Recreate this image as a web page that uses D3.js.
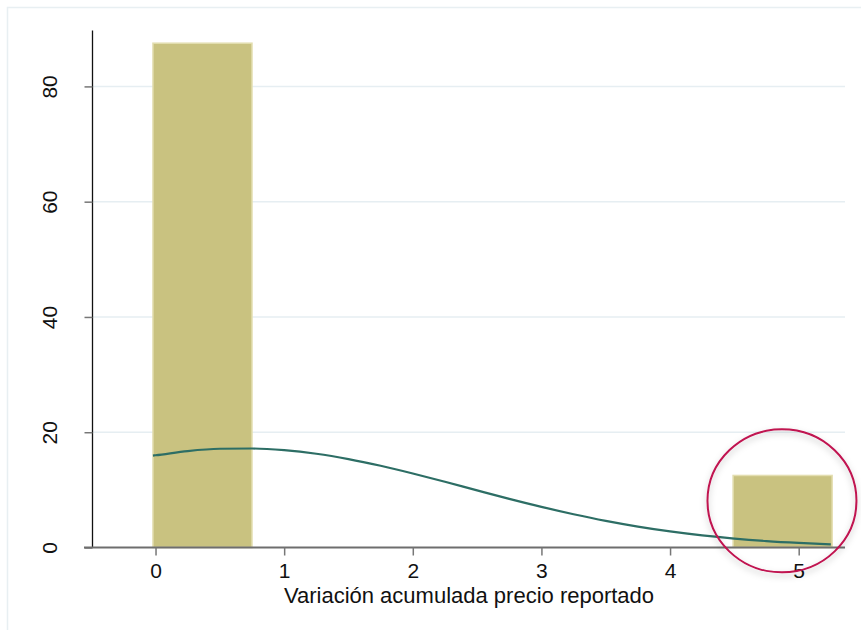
<!DOCTYPE html>
<html><head><meta charset="utf-8">
<script src="https://cdn.jsdelivr.net/npm/d3@7"></script>
<style>
html,body{margin:0;padding:0;background:#fff;}
svg{display:block;font-family:"Liberation Sans",Arial,sans-serif;}
</style></head>
<body>
<svg id="chart" width="861" height="630"></svg>
<script>
// Histogram bins (percent)
const binStart = [-0.02, 4.49];
const binEnd   = [0.75, 5.26];
const binPct   = [87.5, 12.5];
// Normal density overlay (percent scale)
const curveX = [-0.02,0,0.25,0.5,0.75,1,1.25,1.5,1.75,2,2.25,2.5,2.75,3,3.25,3.5,3.75,4,4.25,4.5,4.75,5,5.25];
const curveY = [15.95,16.0,16.73,17.13,17.18,16.88,16.26,15.34,14.18,12.84,11.40,9.91,8.44,7.05,5.77,4.62,3.63,2.79,2.10,1.55,1.12,0.80,0.55];
const xTicks = [0,1,2,3,4,5];
const yTicks = [0,20,40,60,80];
const xTitle = "Variación acumulada precio reportado";

const svg = d3.select("#chart");
const x = d3.scaleLinear().domain([-0.49, 5.36]).range([92.5, 845]);
const y = d3.scaleLinear().domain([0, 89.7]).range([547.5, 30.5]);

// outer frame
svg.append("path").attr("d","M7.5,630 L7.5,7.5 L861,7.5")
  .attr("fill","none").attr("stroke","#e8eff2").attr("stroke-width",1.5);

// gridlines
svg.append("g").selectAll("line").data(yTicks.filter(d=>d>0)).join("line")
  .attr("x1",92.5).attr("x2",845).attr("y1",d=>y(d)).attr("y2",d=>y(d))
  .attr("stroke","#e6eef2").attr("stroke-width",1.5);

// bars
svg.append("g").selectAll("rect").data(binPct).join("rect")
  .attr("x",(d,i)=>x(binStart[i])).attr("width",(d,i)=>x(binEnd[i])-x(binStart[i]))
  .attr("y",d=>y(d)).attr("height",d=>y(0)-y(d))
  .attr("fill","#c9c280").attr("stroke","#e3deb0").attr("stroke-width",1.5);

// curve
svg.append("path").datum(curveX.map((v,i)=>[v,curveY[i]]))
  .attr("d",d3.line().x(d=>x(d[0])).y(d=>y(d[1])).curve(d3.curveMonotoneX))
  .attr("fill","none").attr("stroke","#2d6e65").attr("stroke-width",2.2);

// y axis
const ya = svg.append("g").attr("transform","translate(92.5,0)")
  .call(d3.axisLeft(y).tickValues(yTicks).tickSize(8).tickPadding(26).tickFormat(d3.format("d")));
ya.select(".domain").attr("stroke","#111").attr("stroke-width",1.3).attr("d","M0,30.5V547.5");
ya.selectAll(".tick line").attr("stroke","#777").attr("stroke-width",1.5);
ya.selectAll(".tick text").attr("font-size",21).attr("fill","#111")
  .attr("font-family","'Liberation Sans',Arial,sans-serif")
  .attr("text-anchor","middle").attr("dy",null)
  .attr("transform","translate(-43,0) rotate(-90)").attr("x",0).attr("y",0).attr("dy","0.36em");

// x axis
const xa = svg.append("g").attr("transform","translate(0,547.5)")
  .call(d3.axisBottom(x).tickValues(xTicks).tickSize(8).tickPadding(8).tickFormat(d3.format("d")));
xa.select(".domain").attr("stroke","#6e6e6e").attr("stroke-width",2).attr("d","M84,0H845");
xa.selectAll(".tick line").attr("stroke","#777").attr("stroke-width",1.5);
xa.selectAll(".tick text").attr("font-size",21).attr("fill","#111")
  .attr("font-family","'Liberation Sans',Arial,sans-serif");

svg.append("text").attr("x",469).attr("y",603).attr("text-anchor","middle")
  .attr("font-size",22).attr("fill","#111").text(xTitle);

// annotation circle
const defs = svg.append("defs");
const f = defs.append("filter").attr("id","sh").attr("x","-20%").attr("y","-20%").attr("width","140%").attr("height","140%");
f.append("feDropShadow").attr("dx",0).attr("dy",3).attr("stdDeviation",3).attr("flood-color","#000").attr("flood-opacity",0.25);
svg.append("ellipse").attr("cx",x(4.87)).attr("cy",y(8.1)).attr("rx",74.5).attr("ry",71.5)
  .attr("fill","none").attr("stroke","#c0124f").attr("stroke-width",2).attr("filter","url(#sh)");
</script>
</body></html>
